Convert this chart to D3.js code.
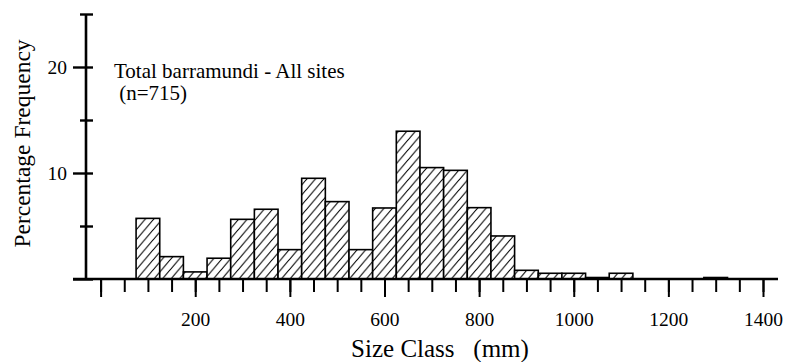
<!DOCTYPE html>
<html>
<head>
<meta charset="utf-8">
<script src="https://cdn.jsdelivr.net/npm/d3@7"></script>
<style>
  html, body { margin: 0; padding: 0; background: #fff; }
  svg { display: block; }
</style>
</head>
<body>
<svg id="chart" width="785" height="362" font-family="Liberation Serif, Times New Roman, serif"></svg>
<script>
// ---- data ----
const binCenters = [100, 150, 200, 250, 300, 350, 400, 450, 500, 550, 600, 650, 700,
                    750, 800, 850, 900, 950, 1000, 1050, 1100, 1150, 1200, 1250, 1300];
const percentFreq = [5.72, 2.11, 0.67, 1.96, 5.63, 6.58, 2.77, 9.50, 7.30, 2.77, 6.70, 13.94, 10.51,
                     10.25, 6.73, 4.06, 0.82, 0.54, 0.54, 0.14, 0.54, 0, 0, 0, 0.14];
const binWidth = 50;
const xMinorTicks = d3.range(0, 1401, 50);
const xMajorTicks = [0, 200, 400, 600, 800, 1000, 1200, 1400];
const xTickLabels = ["", "200", "400", "600", "800", "1000", "1200", "1400"];
const yMajorTicks = [0, 10, 20];
const yMinorTicks = [5, 15, 25];
const yTickLabels = ["", "10", "20"];
const xTitle = "Size Class   (mm)";
const yTitle = "Percentage Frequency";
const noteLines = ["Total barramundi - All sites", " (n=715)"];

const FONT = "Liberation Serif, Times New Roman, serif";

// ---- layout ----
const svg = d3.select("#chart");
const x = d3.scaleLinear().domain([0, 1400]).range([100.6, 763]);
const y = d3.scaleLinear().domain([0, 25]).range([279, 14]);
const yAxisX = 86;
const xAxisLeft = 73, xAxisRight = 778;

// hatch pattern
const defs = svg.append("defs");
const pat = defs.append("pattern")
  .attr("id", "hatch").attr("patternUnits", "userSpaceOnUse")
  .attr("width", 8.5).attr("height", 10);
pat.append("rect").attr("width", 8.5).attr("height", 10).attr("fill", "#fff");
pat.append("path")
  .attr("d", "M-2.125,2.5 L2.125,-2.5 M0,10 L8.5,0 M6.375,12.5 L10.625,7.5")
  .attr("stroke", "#000").attr("stroke-width", 1.1).attr("fill", "none");

// bars
const bars = binCenters.map((c, i) => ({ c, v: percentFreq[i] })).filter(d => d.v > 0);
svg.append("g").selectAll("rect").data(bars).join("rect")
  .attr("x", d => x(d.c - binWidth / 2))
  .attr("y", d => y(d.v))
  .attr("width", d => x(d.c + binWidth / 2) - x(d.c - binWidth / 2))
  .attr("height", d => y(0) - y(d.v))
  .attr("fill", "url(#hatch)")
  .attr("stroke", "#000").attr("stroke-width", 1.6);

// x axis: minor ticks
const gxMinor = svg.append("g").attr("transform", `translate(0,${y(0)})`)
  .call(d3.axisBottom(x).tickValues(xMinorTicks).tickSize(13).tickFormat(""));
gxMinor.select(".domain").remove();
gxMinor.selectAll(".tick line").attr("stroke", "#000").attr("stroke-width", 2);

// x axis: major ticks with labels
const gxMajor = svg.append("g").attr("transform", `translate(0,${y(0)})`)
  .call(d3.axisBottom(x).tickValues(xMajorTicks).tickSize(18)
    .tickFormat((d, i) => xTickLabels[i]));
gxMajor.attr("font-family", FONT).attr("font-size", 19.5);
gxMajor.select(".domain").remove();
gxMajor.selectAll(".tick line").attr("stroke", "#000").attr("stroke-width", 2);
gxMajor.selectAll(".tick text")
  .attr("y", 0).attr("dy", null).attr("transform", "translate(0,47)")
  .attr("font-family", FONT).attr("font-size", 19.5).attr("fill", "#000");

// x axis line
svg.append("line")
  .attr("x1", xAxisLeft).attr("x2", xAxisRight)
  .attr("y1", y(0)).attr("y2", y(0))
  .attr("stroke", "#000").attr("stroke-width", 2.6);

// y axis: ticks straddling the axis
const gyMajor = svg.append("g").attr("transform", `translate(${yAxisX + 7},0)`)
  .call(d3.axisLeft(y).tickValues(yMajorTicks).tickSize(20).tickPadding(6)
    .tickFormat((d, i) => yTickLabels[i]));
gyMajor.attr("font-family", FONT).attr("font-size", 19.5);
gyMajor.select(".domain").remove();
gyMajor.selectAll(".tick line").attr("stroke", "#000").attr("stroke-width", 2.4);
gyMajor.selectAll(".tick text")
  .attr("x", -26)
  .attr("font-family", FONT).attr("font-size", 19.5).attr("fill", "#000");

const gyMinor = svg.append("g").attr("transform", `translate(${yAxisX + 7},0)`)
  .call(d3.axisLeft(y).tickValues(yMinorTicks).tickSize(13).tickFormat(""));
gyMinor.select(".domain").remove();
gyMinor.selectAll(".tick line").attr("stroke", "#000").attr("stroke-width", 2.4);

// y axis line
svg.append("line")
  .attr("x1", yAxisX).attr("x2", yAxisX)
  .attr("y1", y(25)).attr("y2", y(0))
  .attr("stroke", "#000").attr("stroke-width", 2.6);

// axis titles
svg.append("text")
  .attr("x", 440).attr("y", 357)
  .attr("text-anchor", "middle")
  .attr("xml:space", "preserve")
  .style("white-space", "pre")
  .attr("font-family", FONT).attr("font-size", 25)
  .text(xTitle);

svg.append("text")
  .attr("transform", "translate(29.5,143.5) rotate(-90)")
  .attr("text-anchor", "middle")
  .attr("font-family", FONT).attr("font-size", 23.5)
  .text(yTitle);

// annotation
svg.append("g").selectAll("text").data(noteLines).join("text")
  .attr("x", 114)
  .attr("y", (d, i) => 78.3 + i * 22)
  .style("white-space", "pre")
  .attr("font-family", FONT).attr("font-size", 21)
  .text(d => d);
</script>
</body>
</html>
